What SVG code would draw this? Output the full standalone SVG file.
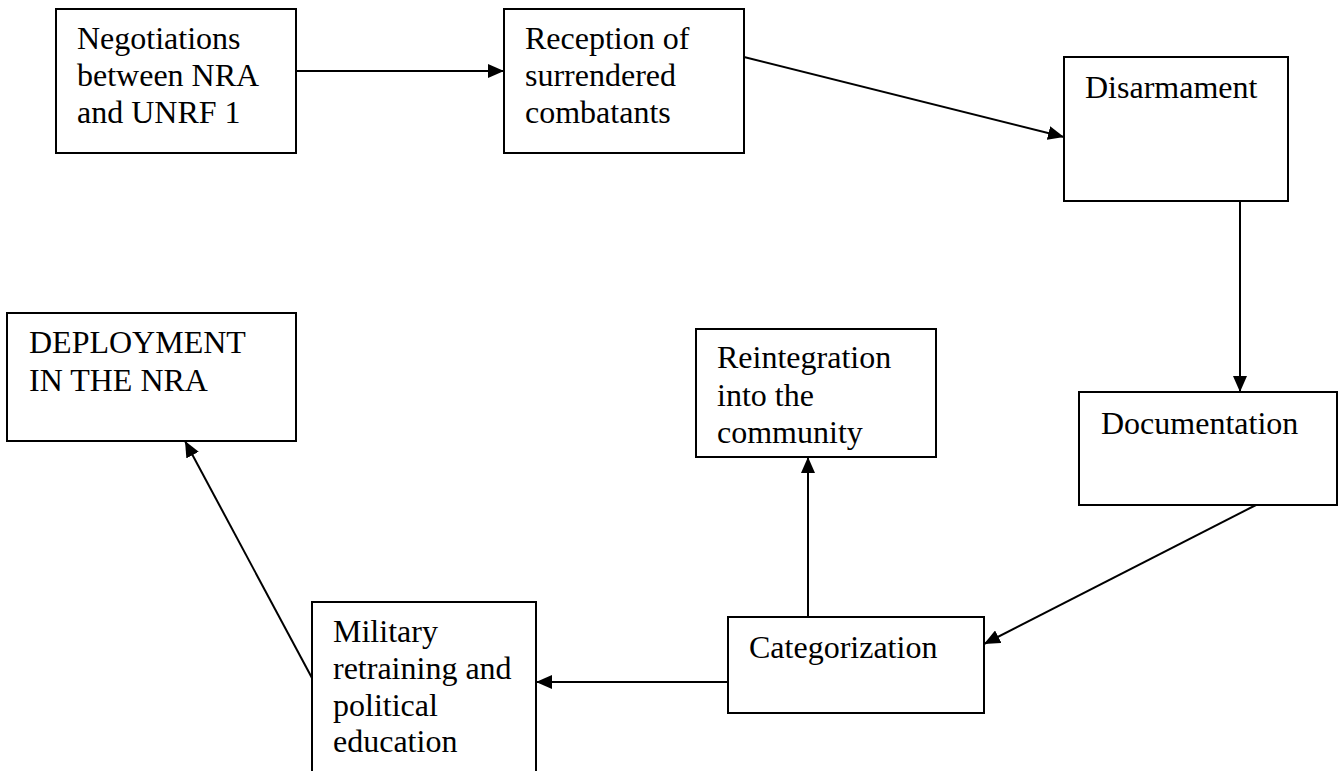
<svg xmlns="http://www.w3.org/2000/svg" width="1342" height="771" viewBox="0 0 1342 771">
<style>
.box{fill:#fff;stroke:#000;stroke-width:2}
.lbl{font-family:"Liberation Serif","Times New Roman",serif;font-size:32px;fill:#000}
.edge{stroke:#000;stroke-width:2;fill:none;marker-end:url(#ah)}
</style>
<defs>
<marker id="ah" markerUnits="userSpaceOnUse" markerWidth="16" markerHeight="14" refX="16" refY="7" orient="auto">
<path d="M0,0 L16,7 L0,14 z" fill="#000"/>
</marker>
</defs>
<rect width="1342" height="771" fill="#fff"/>
<g id="connectors">
<line class="edge" x1="296" y1="71" x2="504" y2="71"/>
<line class="edge" x1="744" y1="57" x2="1064" y2="137"/>
<line class="edge" x1="1240" y1="201" x2="1240" y2="392"/>
<line class="edge" x1="1256" y1="505" x2="984" y2="644"/>
<line class="edge" x1="808" y1="617" x2="808" y2="457"/>
<line class="edge" x1="728" y1="682" x2="536" y2="682"/>
<line class="edge" x1="312" y1="678" x2="185" y2="441"/>
</g>
<g id="n1">
<rect class="box" x="56" y="9" width="240" height="144"/>
<text class="lbl" x="77" y="49">Negotiations</text>
<text class="lbl" x="77" y="86">between NRA</text>
<text class="lbl" x="77" y="123">and UNRF 1</text>
</g>
<g id="n2">
<rect class="box" x="504" y="9" width="240" height="144"/>
<text class="lbl" x="525" y="49">Reception of</text>
<text class="lbl" x="525" y="86">surrendered</text>
<text class="lbl" x="525" y="123">combatants</text>
</g>
<g id="n3">
<rect class="box" x="1064" y="57" width="224" height="144"/>
<text class="lbl" x="1085" y="98">Disarmament</text>
</g>
<g id="n4">
<rect class="box" x="1079" y="392" width="258" height="113"/>
<text class="lbl" x="1101" y="434">Documentation</text>
</g>
<g id="n5">
<rect class="box" x="728" y="617" width="256" height="96"/>
<text class="lbl" x="749" y="658">Categorization</text>
</g>
<g id="n6">
<rect class="box" x="696" y="329" width="240" height="128"/>
<text class="lbl" x="717" y="368">Reintegration</text>
<text class="lbl" x="717" y="406">into the</text>
<text class="lbl" x="717" y="443">community</text>
</g>
<g id="n7">
<rect class="box" x="312" y="602" width="224" height="190"/>
<text class="lbl" x="333" y="642">Military</text>
<text class="lbl" x="333" y="679">retraining and</text>
<text class="lbl" x="333" y="716">political</text>
<text class="lbl" x="333" y="752">education</text>
</g>
<g id="n8">
<rect class="box" x="7" y="313" width="289" height="128"/>
<text class="lbl" x="29" y="353">DEPLOYMENT</text>
<text class="lbl" x="29" y="391">IN THE NRA</text>
</g>
</svg>
